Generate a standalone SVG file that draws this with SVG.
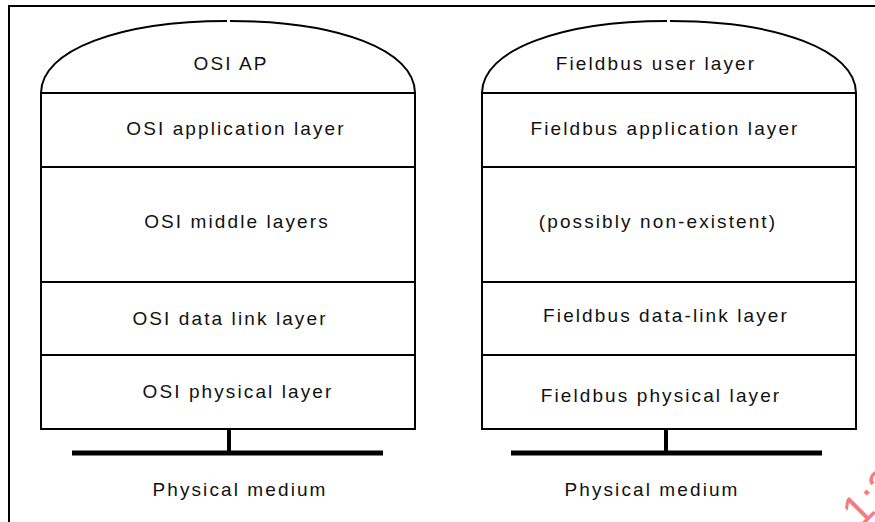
<svg xmlns="http://www.w3.org/2000/svg" width="875" height="522" viewBox="0 0 875 522">
<style>
.ln{fill:none;stroke:#000;stroke-width:2}
.bus{fill:none;stroke:#000;stroke-width:5}
.stem{fill:none;stroke:#000;stroke-width:4}
text{font-family:"Liberation Sans",Arial,sans-serif;font-size:19px;letter-spacing:2.1px;fill:#111;text-anchor:middle}
.wm{fill:#f47c7c;font-size:44px;letter-spacing:0;text-anchor:start}
</style>
<rect width="875" height="522" fill="#fff"/>
<path class="ln" d="M9,522 V6 H875"/>
<g id="osi-stack">
<g id="osi-ap">
<path class="ln" d="M41,93 C41,50 120,21 227,21"/>
<path class="ln" d="M230,21 C338,21 415,50 415,93"/>
<text x="231" y="70">OSI AP</text>
</g>
<g id="osi-app">
<rect class="ln" x="41" y="93" width="374" height="74"/>
<text x="236" y="135">OSI application layer</text>
</g>
<g id="osi-middle">
<rect class="ln" x="41" y="167" width="374" height="115"/>
<text x="237" y="228">OSI middle layers</text>
</g>
<g id="osi-dl">
<rect class="ln" x="41" y="282" width="374" height="73"/>
<text x="230" y="325">OSI data link layer</text>
</g>
<g id="osi-phy">
<rect class="ln" x="41" y="355" width="374" height="74"/>
<text x="238" y="398">OSI physical layer</text>
</g>
</g>
<g id="fb-stack">
<g id="fb-user">
<path class="ln" d="M482,93 C482,50 561,21 667,21"/>
<path class="ln" d="M670,21 C777,21 856,50 856,93"/>
<text x="656" y="70">Fieldbus user layer</text>
</g>
<g id="fb-app">
<rect class="ln" x="482" y="93" width="374" height="74"/>
<text x="665" y="135">Fieldbus application layer</text>
</g>
<g id="fb-middle">
<rect class="ln" x="482" y="167" width="374" height="115"/>
<text x="658" y="228">(possibly non-existent)</text>
</g>
<g id="fb-dl">
<rect class="ln" x="482" y="282" width="374" height="73"/>
<text x="666" y="322">Fieldbus data-link layer</text>
</g>
<g id="fb-phy">
<rect class="ln" x="482" y="355" width="374" height="74"/>
<text x="661" y="402">Fieldbus physical layer</text>
</g>
</g>
<g id="connectors">
<path class="stem" d="M229,429 V453"/>
<path class="bus" d="M72,453 H383"/>
<path class="stem" d="M666,429 V453"/>
<path class="bus" d="M511,453 H822"/>
</g>
<g id="medium-left"><text x="240" y="496">Physical medium</text></g>
<g id="medium-right"><text x="652" y="496">Physical medium</text></g>
<text class="wm" x="860" y="529" transform="rotate(-45 860 529)">1:3</text>
</svg>
